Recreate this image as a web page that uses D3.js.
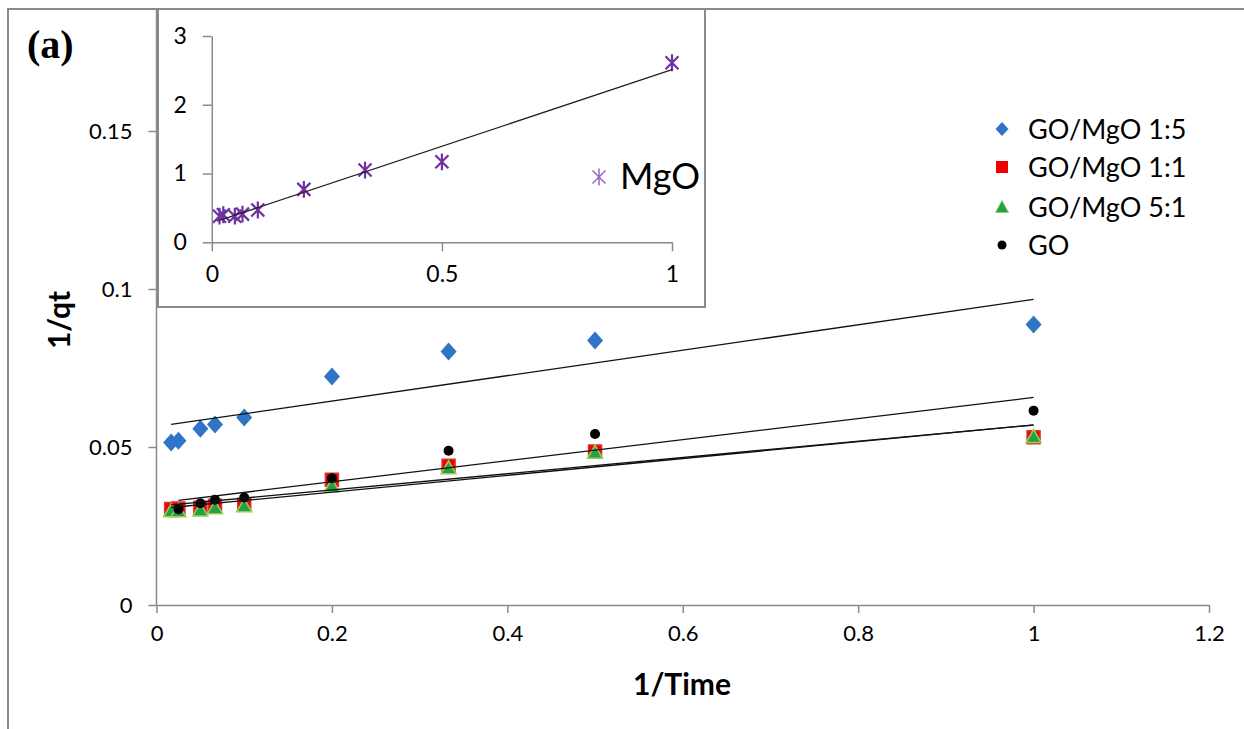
<!DOCTYPE html>
<html><head><meta charset="utf-8">
<script src="https://cdn.jsdelivr.net/npm/d3@7"></script>
<style>html,body{margin:0;padding:0;background:#fff;}svg{display:block;font-family:Lato,"Open Sans",sans-serif;}</style>
</head><body><svg id="c" width="1244" height="729"></svg>
<script>
// ---- data ----
const xTime = [0.0167, 0.025, 0.05, 0.0667, 0.1, 0.2, 0.333, 0.5, 1];
const xTimeGO = [0.025, 0.05, 0.0667, 0.1, 0.2, 0.333, 0.5, 1];
const yGOMgO15 = [0.0514, 0.0520, 0.0558, 0.0571, 0.0593, 0.0723, 0.0802, 0.0837, 0.0888];
const yGOMgO11 = [0.0304, 0.0305, 0.0308, 0.0314, 0.0317, 0.0396, 0.0441, 0.0486, 0.0531];
const yGOMgO51 = [0.0298, 0.0298, 0.0301, 0.0308, 0.0314, 0.0377, 0.0434, 0.0483, 0.0533];
const yGO = [0.0303, 0.0322, 0.0333, 0.0340, 0.0401, 0.0488, 0.0541, 0.0615];
const yMgO = [0.38, 0.40, 0.38, 0.41, 0.47, 0.77, 1.05, 1.17, 2.61];
const seriesNames = ["GO/MgO 1:5", "GO/MgO 1:1", "GO/MgO 5:1", "GO"];
const xTicksMain = [0, 0.2, 0.4, 0.6, 0.8, 1, 1.2];
const yTicksMain = [0, 0.05, 0.1, 0.15];
const xTicksInset = [0, 0.5, 1];
const yTicksInset = [0, 1, 2, 3];

const svg = d3.select("#c");
const AX = "#8a8a8a";

// outer frame (left and top edges)
svg.append("path").attr("d", "M8,729V9H1244").attr("fill", "none").attr("stroke", "#8a8a8a").attr("stroke-width", 2);

// ---- main scales ----
const x = d3.scaleLinear().domain([0, 1.2]).range([156.5, 1209]);
const y = d3.scaleLinear().domain([0, 0.15]).range([605, 131]);

function linReg(xs, ys) {
  const n = xs.length, mx = d3.mean(xs), my = d3.mean(ys);
  let sxy = 0, sxx = 0;
  for (let i = 0; i < n; i++) { sxy += (xs[i]-mx)*(ys[i]-my); sxx += (xs[i]-mx)**2; }
  const b = sxy/sxx; return v => my + b*(v-mx);
}

// axes
const gx = svg.append("g").attr("transform", "translate(0,605)")
  .call(d3.axisBottom(x).tickValues(xTicksMain).tickFormat(d3.format("")).tickSizeInner(8).tickSizeOuter(0).tickPadding(12));
const gy = svg.append("g").attr("transform", "translate(156.5,0)")
  .call(d3.axisLeft(y).tickValues(yTicksMain).tickFormat(d3.format("")).tickSizeInner(8).tickSizeOuter(0).tickPadding(16));
[gx, gy].forEach(g => {
  g.select(".domain").attr("stroke", AX).attr("stroke-width", 1.5);
  g.selectAll(".tick line").attr("stroke", AX).attr("stroke-width", 1.5);
  g.selectAll(".tick text").attr("font-size", 22).attr("fill", "#000").attr("font-family", "Lato");
});
// extend y-axis line to top
gy.select(".domain").attr("d", `M0,605V9`);

// axis titles
svg.append("text").attr("x", 682).attr("y", 695).attr("text-anchor", "middle")
  .attr("font-size", 30).attr("font-weight", "bold").text("1/Time");
svg.append("text").attr("transform", "translate(70,320) rotate(-90)").attr("text-anchor", "middle")
  .attr("font-size", 30).attr("font-weight", "bold").text("1/qt");
svg.append("text").attr("x", 27).attr("y", 58)
  .style("font-family", "'Liberation Serif','DejaVu Serif',serif")
  .attr("font-size", 40).attr("font-weight", "bold").text("(a)");

// marker paths
const diamond = (cx, cy) => `M${cx},${cy-9}L${cx+8},${cy}L${cx},${cy+9}L${cx-8},${cy}Z`;
const square = (cx, cy) => `M${cx-6.5},${cy-6.5}h13v13h-13Z`;
const triangle = (cx, cy) => `M${cx},${cy-7}L${cx+7.5},${cy+6}L${cx-7.5},${cy+6}Z`;
const star = (cx, cy, r) => `M${cx-r},${cy-r}L${cx+r},${cy+r}M${cx-r},${cy+r}L${cx+r},${cy-r}M${cx},${cy-r*1.3}V${cy+r*1.3}`;

const mainSeries = [
  {xs: xTime, ys: yGOMgO15, shape: diamond, fill: "#2F74C7", stroke: "none"},
  {xs: xTime, ys: yGOMgO11, shape: square, fill: "#F20000", stroke: "#E03030"},
  {xs: xTime, ys: yGOMgO51, shape: triangle, fill: "#1FA24A", stroke: "#9ACD50"},
  {xs: xTimeGO, ys: yGO, shape: null, fill: "#000", stroke: "none"}
];

mainSeries.forEach(s => {
  const g = svg.append("g");
  const pts = s.xs.map((v, i) => [v, s.ys[i]]);
  if (s.shape) {
    g.selectAll("path").data(pts).join("path")
      .attr("d", d => s.shape(x(d[0]), y(d[1])))
      .attr("fill", s.fill).attr("stroke", s.stroke).attr("stroke-width", 1.5);
  } else {
    g.selectAll("circle").data(pts).join("circle")
      .attr("cx", d => x(d[0])).attr("cy", d => y(d[1])).attr("r", 5).attr("fill", s.fill);
  }
});
// trendlines
const line = d3.line().x(d => x(d[0])).y(d => y(d[1]));
mainSeries.forEach(s => {
  const f = linReg(s.xs, s.ys);
  const x0 = d3.min(s.xs), x1 = d3.max(s.xs);
  svg.append("path").attr("d", line([[x0, f(x0)], [x1, f(x1)]]))
    .attr("fill", "none").attr("stroke", "#111").attr("stroke-width", 1.3);
});

// legend
const legY = [129, 167, 207, 245];
seriesNames.forEach((nm, i) => {
  const cy = legY[i], cx = 1002;
  const s = mainSeries[i];
  if (i === 0) svg.append("path").attr("d", `M${cx},${cy-7}L${cx+6.5},${cy}L${cx},${cy+7}L${cx-6.5},${cy}Z`).attr("fill", s.fill);
  else if (i === 1) svg.append("rect").attr("x", cx-6).attr("y", cy-6).attr("width", 12).attr("height", 12).attr("fill", s.fill);
  else if (i === 2) svg.append("path").attr("d", `M${cx},${cy-6.5}L${cx+6.5},${cy+5.5}L${cx-6.5},${cy+5.5}Z`).attr("fill", s.fill).attr("stroke", s.stroke).attr("stroke-width", 1);
  else svg.append("circle").attr("cx", cx).attr("cy", cy).attr("r", 4.5).attr("fill", "#000");
  svg.append("text").attr("x", 1028).attr("y", cy + 9.5).attr("font-size", 27).attr("fill", "#000").text(nm);
});

// ---- inset ----
svg.append("rect").attr("x", 158).attr("y", 9).attr("width", 547).attr("height", 298)
  .attr("fill", "#fff").attr("stroke", AX).attr("stroke-width", 2);
const xi = d3.scaleLinear().domain([0, 1]).range([211.8, 672]);
const yi = d3.scaleLinear().domain([0, 3]).range([242.3, 36]);
const gxi = svg.append("g").attr("transform", "translate(0,242.3)")
  .call(d3.axisBottom(xi).tickValues(xTicksInset).tickFormat(d3.format("")).tickSizeInner(9).tickSizeOuter(0).tickPadding(14));
const gyi = svg.append("g").attr("transform", "translate(211.8,0)")
  .call(d3.axisLeft(yi).tickValues(yTicksInset).tickFormat(d3.format("")).tickSizeInner(9).tickSizeOuter(0).tickPadding(16));
[gxi, gyi].forEach(g => {
  g.select(".domain").attr("stroke", AX).attr("stroke-width", 1.5);
  g.selectAll(".tick line").attr("stroke", AX).attr("stroke-width", 1.5);
  g.selectAll(".tick text").attr("font-size", 23).attr("fill", "#000").attr("font-family", "Lato");
});
const mgoPts = xTime.map((v, i) => [v, yMgO[i]]);
svg.append("g").selectAll("path").data(mgoPts).join("path")
  .attr("d", d => star(xi(d[0]), yi(d[1]), 6.5))
  .attr("fill", "none").attr("stroke", "#7030A0").attr("stroke-width", 2.2);
const fm = linReg(xTime, yMgO);
const lineI = d3.line().x(d => xi(d[0])).y(d => yi(d[1]));
svg.append("path").attr("d", lineI([[d3.min(xTime), fm(d3.min(xTime))], [1, fm(1)]]))
  .attr("fill", "none").attr("stroke", "#222").attr("stroke-width", 1.2);
// inset legend
svg.append("path").attr("d", star(599, 177, 6.5)).attr("fill", "none").attr("stroke", "#9966C8").attr("stroke-width", 1.5);
svg.append("text").attr("x", 620).attr("y", 189).attr("font-size", 36).attr("fill", "#000").text("MgO");
</script></body></html>
